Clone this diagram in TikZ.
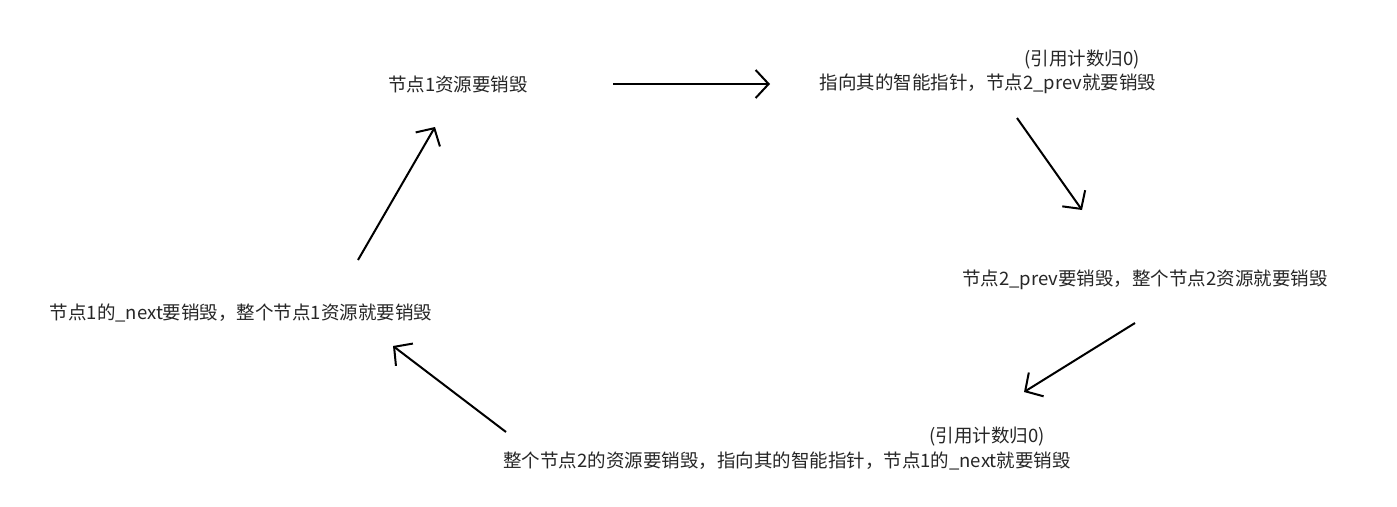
\documentclass[tikz,border=0pt]{standalone}
\usepackage{fontspec}
\setmainfont{Noto Sans CJK SC}
\usetikzlibrary{arrows.meta}
\begin{document}
\begin{tikzpicture}[x=1pt,y=-1pt,
  lbl/.style={inner sep=0pt, font=\fontsize{18.5}{22}\selectfont, text=black!85},
  arr/.style={line width=2pt, -{Straight Barb[length=13pt,width=28pt,line width=2pt]}}]
\useasboundingbox[fill=white] (0,0) rectangle (1397,506);
\node[lbl] (n1) at (458,84) {节点1资源要销毁};
\node[lbl] (c1) at (1082,60) {(引用计数归0)};
\node[lbl] (n2) at (988,84) {指向其的智能指针，节点2\_prev就要销毁};
\node[lbl] (n3) at (1145,280) {节点2\_prev要销毁，整个节点2资源就要销毁};
\node[lbl] (c2) at (987,437) {(引用计数归0)};
\node[lbl] (n4) at (787,461) {整个节点2的资源要销毁，指向其的智能指针，节点1的\_next就要销毁};
\node[lbl] (n5) at (241,313) {节点1的\_next要销毁，整个节点1资源就要销毁};
\coordinate (a1s) at (613,84); \coordinate (a1e) at (770,84);
\coordinate (a2s) at (1017,118); \coordinate (a2e) at (1082,210);
\coordinate (a3s) at (1135,323); \coordinate (a3e) at (1024,392);
\coordinate (a4s) at (506,432); \coordinate (a4e) at (393,346);
\coordinate (a5s) at (358,260); \coordinate (a5e) at (435,127);
\draw[arr] (a1s) -- (a1e);
\draw[arr] (a2s) -- (a2e);
\draw[arr] (a3s) -- (a3e);
\draw[arr] (a4s) -- (a4e);
\draw[arr] (a5s) -- (a5e);
\end{tikzpicture}
\end{document}
